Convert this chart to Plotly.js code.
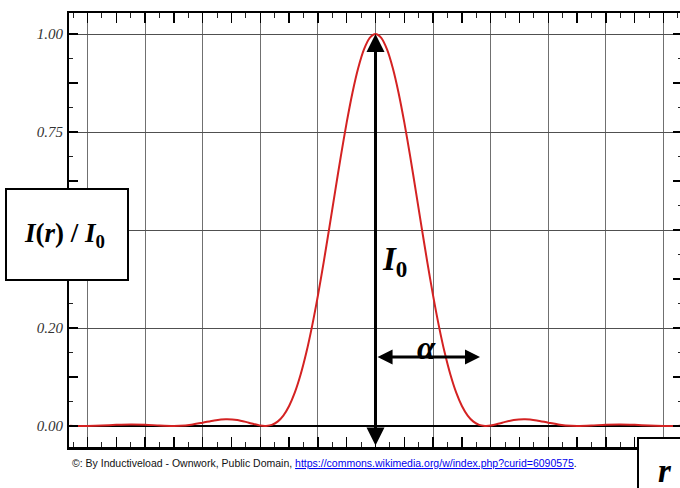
<!DOCTYPE html>
<html>
<head>
<meta charset="utf-8">
<script src="https://cdn.plot.ly/plotly-3.0.1.min.js"></script>
<style>
html,body{margin:0;padding:0;overflow:hidden;background:#fff;}
#chart{width:700px;height:488px;}
</style>
</head>
<body>
<div id="chart"></div>
<script>
// Radial position (grid units) and normalised intensity I(r)/I0
const rPos = [-5.3,-5.25,-5.09,-5.0,-4.75,-4.5,-4.25,-4.0,-3.75,-3.51,-3.4,-3.2,-3.0,-2.8,-2.6,-2.4,-2.2,-2.0,-1.92,-1.9,-1.8,-1.7,-1.6,-1.5,-1.4,-1.3,-1.2,-1.1,-1.0,-0.9,-0.8,-0.7,-0.6,-0.5,-0.4,-0.3,-0.2,-0.1,
  0,
  0.1,0.2,0.3,0.4,0.5,0.6,0.7,0.8,0.9,1.0,1.1,1.2,1.3,1.4,1.5,1.6,1.7,1.8,1.9,1.92,2.0,2.2,2.4,2.6,2.8,3.0,3.2,3.4,3.51,3.75,4.0,4.25,4.5,4.75,5.0,5.09,5.25,5.3];
const intensity = [0.0004,0.0002,0,0.0001,0.0012,0.0030,0.0041,0.0034,0.0013,0,0.0004,0.0033,0.0085,0.0142,0.0174,0.0155,0.0085,0.0011,0,0.0001,0.0028,0.0111,0.0267,0.0511,0.0856,0.1312,0.1879,0.2555,0.3326,0.4175,0.5075,0.5994,0.6897,0.7746,0.8503,0.9133,0.9607,0.9901,
  1.0,
  0.9901,0.9607,0.9133,0.8503,0.7746,0.6897,0.5994,0.5075,0.4175,0.3326,0.2555,0.1879,0.1312,0.0856,0.0511,0.0267,0.0111,0.0028,0.0001,0,0.0011,0.0085,0.0155,0.0174,0.0142,0.0085,0.0033,0.0004,0,0.0013,0.0034,0.0041,0.0030,0.0012,0.0001,0,0.0002,0.0004];

// Y tick labels as printed on the reference (the 0.50 label is hidden behind the axis-title box)
const yTickVals = [0, 0.25, 0.5, 0.75, 1.0];
const yTickText = ["0.00", "0.20", "", "0.75", "1.00"];

const caption = '©: By Inductiveload - Ownwork, Public Domain, ';
const captionLink = 'https://commons.wikimedia.org/w/index.php?curid=6090575';

// plot area in pixels: x 69..682, y 13..447
const PL = 69, PR = 682, PT = 13, PB = 447;
const px = v => (v - PL) / (PR - PL);
const py = v => (PB - v) / (PB - PT);

const xRange = [-5.321, 5.321];
const yRange = [-0.05357, 1.05357];

const serif = 'Liberation Serif, Times New Roman, serif';

const traces = [
  {x: rPos, y: intensity, type: 'scatter', mode: 'lines',
   line: {color: '#d42222', width: 2, shape: 'spline', smoothing: 0.8},
   hoverinfo: 'skip', showlegend: false, xaxis: 'x', yaxis: 'y'},
  {x: [], y: [], type: 'scatter', mode: 'lines', showlegend: false, xaxis: 'x2', yaxis: 'y2'}
];

const layout = {
  width: 700, height: 488,
  margin: {l: PL, r: 700 - PR, t: PT, b: 488 - PB, pad: 0},
  paper_bgcolor: '#fff', plot_bgcolor: '#fff',
  showlegend: false,
  xaxis: {
    range: xRange, tickmode: 'linear', tick0: 0, dtick: 0.5,
    ticks: 'inside', ticklen: 10, tickwidth: 1.5, tickcolor: '#000',
    minor: {tickmode: 'linear', tick0: 0, dtick: 0.25, ticks: 'inside', ticklen: 5, tickwidth: 1, tickcolor: '#222', showgrid: false},
    showgrid: false, zeroline: false, showticklabels: false,
    showline: true, linecolor: '#000', linewidth: 2.5, mirror: 'ticks',
    fixedrange: true
  },
  yaxis: {
    range: yRange, tickmode: 'linear', tick0: 0, dtick: 0.125,
    ticks: 'inside', ticklen: 9, tickwidth: 1.5, tickcolor: '#000',
    minor: {tickmode: 'linear', tick0: 0, dtick: 0.0625, ticks: 'inside', ticklen: 4, tickwidth: 1, tickcolor: '#222', showgrid: false},
    showgrid: false, showticklabels: false,
    zeroline: true, zerolinecolor: '#000', zerolinewidth: 2,
    showline: true, linecolor: '#000', linewidth: 2.5, mirror: 'ticks',
    fixedrange: true
  },
  xaxis2: {
    range: xRange, overlaying: 'x', anchor: 'y2', tickmode: 'linear', tick0: 0, dtick: 1,
    showgrid: true, gridcolor: '#707070', gridwidth: 1,
    ticks: '', showticklabels: false, zeroline: false, showline: false, fixedrange: true
  },
  yaxis2: {
    range: yRange, overlaying: 'y', anchor: 'x2', side: 'left',
    tickmode: 'array', tickvals: yTickVals, ticktext: yTickText,
    showgrid: true, gridcolor: '#505050', gridwidth: 1,
    ticks: '', showticklabels: true, ticklabelstandoff: 5,
    tickfont: {family: serif, size: 15, color: '#333', style: 'italic'},
    zeroline: false, showline: false, fixedrange: true
  },
  shapes: [
    {type: 'rect', xref: 'paper', yref: 'paper', layer: 'above',
     x0: px(6), x1: px(128), y0: py(280), y1: py(189),
     line: {color: '#000', width: 2}, fillcolor: '#fff'},
    {type: 'rect', xref: 'paper', yref: 'paper', layer: 'above',
     x0: px(638), x1: px(730), y0: py(530), y1: py(438),
     line: {color: '#000', width: 2}, fillcolor: '#fff'}
  ],
  annotations: [
    // vertical double arrow (I0)
    {xref: 'x', yref: 'y', axref: 'x', ayref: 'y', x: 0, y: 1.0, ax: 0, ay: yRange[0],
     text: '', showarrow: true, arrowside: 'end+start', arrowhead: 2, startarrowhead: 2,
     arrowwidth: 3, arrowsize: 1.2, startarrowsize: 1.2, arrowcolor: '#000', standoff: 0, startstandoff: 0},
    // horizontal double arrow (alpha)
    {xref: 'x', yref: 'y', axref: 'x', ayref: 'y', x: 1.814, y: 0.176, ax: 0.01, ay: 0.176,
     text: '', showarrow: true, arrowside: 'end+start', arrowhead: 2, startarrowhead: 2,
     arrowwidth: 3, arrowsize: 1, startarrowsize: 1, arrowcolor: '#000', standoff: 0, startstandoff: 0},
    {xref: 'paper', yref: 'paper', x: px(64.5), y: py(235), xanchor: 'center', yanchor: 'middle',
     text: '<b><i>I</i>(<i>r</i>) / <i>I</i><sub>0</sub></b>', showarrow: false,
     font: {family: serif, size: 27, color: '#000'}},
    {xref: 'x', yref: 'y', x: 0.08, y: 0.42, xanchor: 'left', yanchor: 'middle',
     text: '<b><i>I</i><sub>0</sub></b>', showarrow: false,
     font: {family: serif, size: 33, color: '#000'}},
    {xref: 'x', yref: 'y', x: 0.877, y: 0.2, xanchor: 'center', yanchor: 'middle',
     text: '<b><i>α</i></b>', showarrow: false,
     font: {family: serif, size: 33, color: '#000'}},
    {xref: 'paper', yref: 'paper', x: px(665), y: py(471), xanchor: 'center', yanchor: 'middle',
     text: '<b><i>r</i></b>', showarrow: false,
     font: {family: serif, size: 33, color: '#000'}},
    {xref: 'paper', yref: 'paper', x: px(70), y: py(463), xanchor: 'left', yanchor: 'middle',
     text: caption + '<span style="color:#0000ee;text-decoration:underline">' + captionLink + '</span>.',
     showarrow: false, font: {family: 'Liberation Sans, Arial, sans-serif', size: 10.5, color: '#111'}}
  ]
};

Plotly.newPlot('chart', traces, layout, {staticPlot: true, displayModeBar: false});
</script>
</body>
</html>
